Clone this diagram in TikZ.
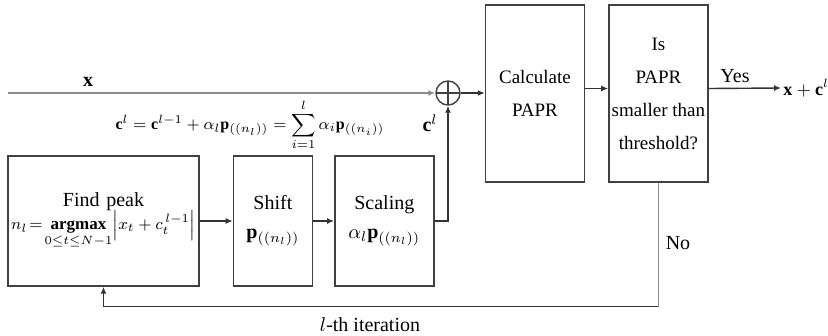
\documentclass[tikz,border=0pt]{standalone}
\usepackage{amsmath}
\usepackage{amssymb}
\usepackage{fontspec}
\setmainfont{Liberation Serif}
\usetikzlibrary{positioning,arrows.meta}

\begin{document}
\begin{tikzpicture}[
    x=0.5pt, y=-0.5pt,
    block/.style={draw=black!75, line width=0.7pt, align=center, minimum height=65pt, inner sep=1pt, font=\fontsize{10}{14.5}\selectfont},
    tallblock/.style={block, minimum height=88.5pt, minimum width=49.5pt, font=\fontsize{9.5}{16.5}\selectfont},
    adder/.style={draw=black!75, line width=0.7pt, circle, minimum size=12pt, inner sep=0pt,
        path picture={\draw[black!75, line width=0.6pt] (path picture bounding box.north) -- (path picture bounding box.south)
        (path picture bounding box.west) -- (path picture bounding box.east);}},
    arrow/.style={-{Latex[length=3.5pt,width=3pt]}, line width=0.7pt, draw=black!80},
    lbl/.style={font=\fontsize{10}{12}\selectfont},
    mathlbl/.style={font=\fontsize{8}{10}\selectfont}
]
\useasboundingbox (0,0) rectangle (828,336);

\node[block, minimum width=95.5pt, text width=93pt] (findpeak) at (103.5,221) {Find peak\\[-3pt]
    {\fontsize{8.5}{10}\selectfont$n_l\!=\!\mathop{\mathbf{argmax}}\limits_{0\le t\le N-1}\!\left|x_t + c_t^{\,l-1}\right|$}};
\node[block, right=16.5pt of findpeak, minimum width=39.5pt] (shift) {Shift\\$\mathbf{p}_{((n_l))}$};
\node[block, right=10.5pt of shift, minimum width=49.5pt] (scaling) {Scaling\\$\alpha_l\mathbf{p}_{((n_l))}$};

\node[adder] (sum) at (448,93) {};
\node[tallblock] (calc) at (535,93.5) {Calculate\\PAPR};
\node[tallblock, right=11.5pt of calc] (ispapr) {Is\\PAPR\\smaller than\\threshold?};

\coordinate (xin) at (8,93);
\node[lbl, font=\bfseries] (xlbl) at (88,82) {x};
\node[mathlbl] (eqn) at (250,125) {$\mathbf{c}^{l} = \mathbf{c}^{l-1} + \alpha_{l}\mathbf{p}_{((n_l))} = \displaystyle\sum_{i=1}^{l}\alpha_{i}\mathbf{p}_{((n_i))}$};
\node[lbl] (clbl) at (430,123) {$\mathbf{c}^{l}$};
\node[lbl, anchor=west, inner sep=1pt, font=\fontsize{9}{10}\selectfont] (out) at (781,88) {$\mathbf{x}+\mathbf{c}^{l}$};
\node[lbl] (yes) at (735,76) {Yes};
\node[lbl] (no) at (678,243) {No};
\node[lbl] (iter) at (370,325) {$l$-th iteration};
\coordinate (scout) at (448,221);
\coordinate (fbcorner) at ([yshift=-62pt]ispapr.south);

\draw[arrow, draw=black!45] (xin) -- (sum.west);
\draw[arrow] (findpeak) -- (shift);
\draw[arrow] (shift) -- (scaling);
\draw[arrow] (scaling.east) -- (scout) -- (sum.south);
\draw[arrow] (sum.east) -- (calc.west |- sum.east);
\draw[arrow] ([yshift=2.5pt]calc.east) -- ([yshift=2.5pt]ispapr.west);
\draw[arrow] ([yshift=2.5pt]ispapr.east) -- (out.west);
\draw[line width=0.7pt, draw=black!45] (ispapr.south) -- (fbcorner);
\draw[arrow] (fbcorner) -| (findpeak.south);
\end{tikzpicture}
\end{document}
